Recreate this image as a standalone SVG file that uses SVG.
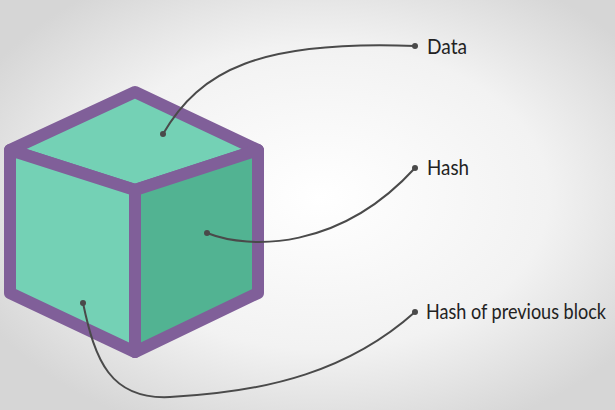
<svg xmlns="http://www.w3.org/2000/svg" width="615" height="410" viewBox="0 0 615 410">
<defs>
<radialGradient id="bg" cx="0.52" cy="0.48" r="0.62">
<stop offset="0" stop-color="#ffffff"/><stop offset="0.6" stop-color="#f2f2f2"/><stop offset="1" stop-color="#d6d6d6"/>
</radialGradient>
</defs>
<style>
.face{stroke:#805f99;stroke-width:12;stroke-linejoin:round}
.c{fill:none;stroke:#4a4a4a;stroke-width:2}
.d{fill:#4a4a4a}
.t{font-family:Lato,"Open Sans",sans-serif;font-size:21px;fill:#222}
</style>
<rect width="615" height="410" fill="url(#bg)"/>
<g id="cube">
<polygon class="face" fill="#74d1b5" points="135,92 258,150 135,190 10,150"/>
<polygon class="face" fill="#74d1b5" points="10,150 135,190 135,352 10,293"/>
<polygon class="face" fill="#52b392" points="135,190 258,150 258,293 135,352"/>
</g>
<g id="connectors">
<path class="c" d="M163,134 C200,70 260,40 415,46"/>
<path class="c" d="M207,233 C250,250 340,250 415,168"/>
<path class="c" d="M83,303 C95,360 110,400 170,397 C270,392 350,370 415,312"/>
<circle class="d" cx="163" cy="134" r="3"/><circle class="d" cx="415" cy="46" r="3"/>
<circle class="d" cx="207" cy="233" r="3"/><circle class="d" cx="415" cy="168" r="3"/>
<circle class="d" cx="83" cy="303" r="3"/><circle class="d" cx="415" cy="312" r="3"/>
</g>
<g id="labels">
<text class="t" x="427" y="54" textLength="40" lengthAdjust="spacingAndGlyphs">Data</text>
<text class="t" x="427" y="175" textLength="42" lengthAdjust="spacingAndGlyphs">Hash</text>
<text class="t" x="426" y="319" textLength="180" lengthAdjust="spacingAndGlyphs">Hash of previous block</text>
</g>
</svg>
